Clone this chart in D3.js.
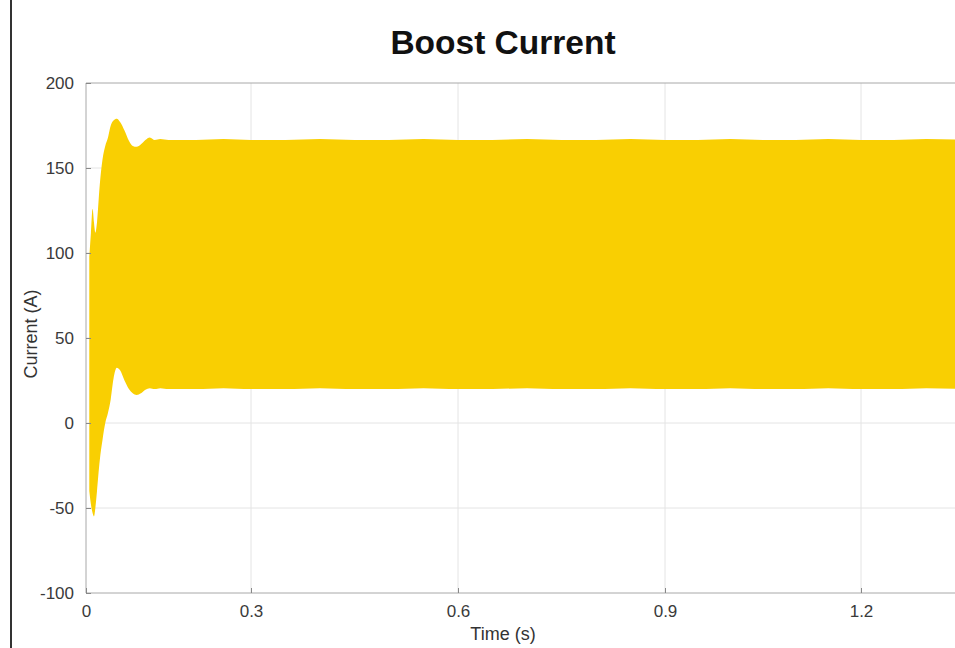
<!DOCTYPE html>
<html>
<head>
<meta charset="utf-8">
<script src="https://cdn.jsdelivr.net/npm/d3@7"></script>
<style>
  html, body { margin: 0; padding: 0; background: #fff; }
  svg { display: block; font-family: "Liberation Sans", Arial, Helvetica, sans-serif; }
</style>
</head>
<body>
<svg id="chart" width="955" height="648"></svg>
<script>
// Boost converter inductor current: envelope of the switching ripple (A) over time (s)
const time  = [0.006, 0.009, 0.012, 0.0145, 0.017, 0.020, 0.025, 0.030, 0.035, 0.040, 0.045, 0.050,
               0.056, 0.062, 0.070, 0.078, 0.085, 0.092, 0.100, 0.108, 0.116, 0.125, 0.135, 0.150,
               0.20, 0.25, 0.30, 0.35, 0.40, 0.45, 0.50, 0.55, 0.60, 0.65, 0.70, 0.75, 0.80, 0.85,
               0.90, 0.95, 1.00, 1.05, 1.10, 1.15, 1.20, 1.25, 1.30, 1.36];
const upper = [98, 112, 126, 118, 112, 118, 140, 155, 163, 168, 175, 178,
               179, 177, 172, 166, 163, 162.5, 164, 166.5, 168, 166.5, 167, 166.5,
               166.5, 167, 166.5, 166.5, 167, 166.5, 166.5, 167, 166.5, 166.5, 167, 166.5, 166.5, 167,
               166.5, 166.5, 167, 166.5, 166.5, 167, 166.5, 166.5, 167, 166.5];
const lower = [-40, -48, -53, -55, -50, -40, -22, -10, 0, 6, 14, 26,
               32.5, 31, 25, 20, 17.5, 16.5, 17.5, 19.5, 20.5, 20, 20.5, 20,
               20, 20.5, 20, 20, 20.5, 20, 20, 20.5, 20, 20, 20.5, 20, 20, 20.5,
               20, 20, 20.5, 20, 20, 20.5, 20, 20, 20.5, 20];

const xTicks = [0, 0.3, 0.6, 0.9, 1.2];
const yTicks = [-100, -50, 0, 50, 100, 150, 200];

const titleText = "Boost Current";
const xLabel = "Time (s)";
const yLabel = "Current (A)";

const W = 955, H = 648;
const plot = { left: 86, top: 83, right: 955, bottom: 593 };

const svg = d3.select("#chart");

// time axis spacing follows the tick stops of the original figure
const x = d3.scaleLinear()
  .domain(xTicks)
  .range([86, 251, 458, 665, 861]);

const y = d3.scaleLinear()
  .domain([-100, 200])
  .range([plot.bottom, plot.top]);

// left page rule
svg.append("line")
  .attr("x1", 11).attr("x2", 11).attr("y1", 0).attr("y2", H)
  .attr("stroke", "#333").attr("stroke-width", 2);

svg.append("defs").append("clipPath").attr("id", "plotClip")
  .append("rect")
  .attr("x", plot.left).attr("y", plot.top)
  .attr("width", plot.right - plot.left).attr("height", plot.bottom - plot.top);

// grid
const grid = svg.append("g");
grid.selectAll("line.vg").data(xTicks.slice(1)).join("line")
  .attr("x1", d => x(d)).attr("x2", d => x(d))
  .attr("y1", plot.top).attr("y2", plot.bottom)
  .attr("stroke", "#e4e4e4").attr("stroke-width", 1);
grid.selectAll("line.hg").data(yTicks.slice(1, -1)).join("line")
  .attr("x1", plot.left).attr("x2", plot.right)
  .attr("y1", d => y(d)).attr("y2", d => y(d))
  .attr("stroke", "#e4e4e4").attr("stroke-width", 1);

// current envelope
const data = time.map((t, i) => ({ t, hi: upper[i], lo: lower[i] }));
const area = d3.area()
  .x(d => x(d.t))
  .y0(d => y(d.lo))
  .y1(d => y(d.hi))
  .curve(d3.curveMonotoneX);

svg.append("path")
  .datum(data)
  .attr("clip-path", "url(#plotClip)")
  .attr("d", area)
  .attr("fill", "#F9CF02");

// axes frame
const axisColor = "#a8a8a8";
svg.append("line").attr("x1", plot.left).attr("x2", plot.right)
  .attr("y1", plot.top).attr("y2", plot.top).attr("stroke", axisColor);
svg.append("line").attr("x1", plot.left).attr("x2", plot.right)
  .attr("y1", plot.bottom).attr("y2", plot.bottom).attr("stroke", axisColor);
svg.append("line").attr("x1", plot.left).attr("x2", plot.left)
  .attr("y1", plot.top).attr("y2", plot.bottom).attr("stroke", axisColor);

const xAxis = d3.axisBottom(x).tickValues(xTicks).tickSize(-5).tickPadding(12)
  .tickFormat(d => d === 0 ? "0" : d3.format(".1f")(d));
const gx = svg.append("g").attr("transform", `translate(0,${plot.bottom})`).call(xAxis);
gx.select(".domain").remove();
gx.selectAll(".tick line").attr("stroke", "#888");
gx.selectAll(".tick text").attr("fill", "#3a3a3a").attr("font-size", 17)
  .attr("font-family", "'Liberation Sans', Arial, sans-serif");

const yAxis = d3.axisLeft(y).tickValues(yTicks).tickSize(-5).tickPadding(12)
  .tickFormat(d => String(d));
const gy = svg.append("g").attr("transform", `translate(${plot.left},0)`).call(yAxis);
gy.select(".domain").remove();
gy.selectAll(".tick line").attr("stroke", "#888");
gy.selectAll(".tick text").attr("fill", "#3a3a3a").attr("font-size", 17)
  .attr("font-family", "'Liberation Sans', Arial, sans-serif");

// labels
svg.append("text")
  .attr("x", 503).attr("y", 54)
  .attr("text-anchor", "middle")
  .attr("font-size", 33.5).attr("font-weight", "bold").attr("fill", "#111")
  .text(titleText);

svg.append("text")
  .attr("x", 503).attr("y", 640)
  .attr("text-anchor", "middle")
  .attr("font-size", 18).attr("fill", "#333")
  .text(xLabel);

svg.append("text")
  .attr("transform", "translate(37,334) rotate(-90)")
  .attr("text-anchor", "middle")
  .attr("font-size", 18).attr("fill", "#333")
  .text(yLabel);
</script>
</body>
</html>
